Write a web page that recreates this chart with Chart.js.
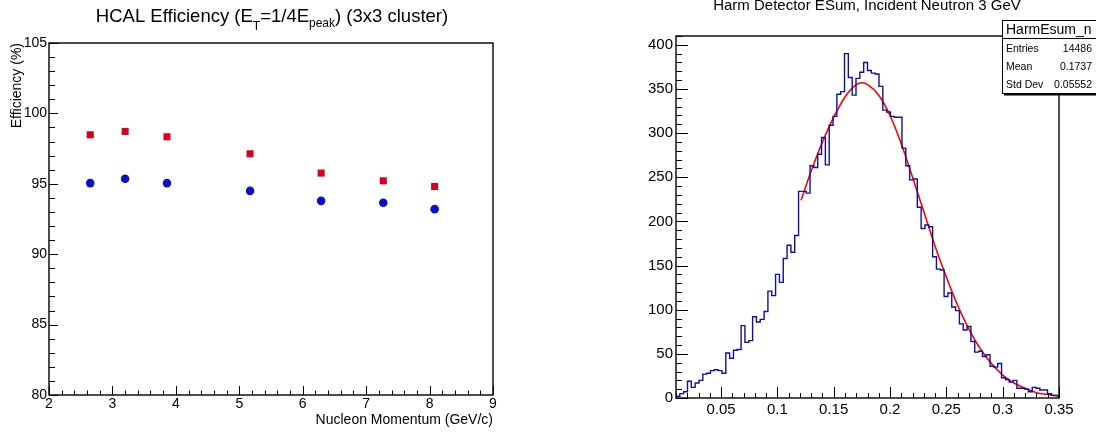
<!DOCTYPE html>
<html>
<head>
<meta charset="utf-8">
<script src="https://cdn.jsdelivr.net/npm/chart.js@4.4.1/dist/chart.umd.min.js"></script>
<style>
  html, body { margin: 0; padding: 0; background: #fff; }
  #wrap { position: relative; width: 1096px; height: 433px; overflow: hidden; }
  canvas { position: absolute; top: 0; }
  #effChart { left: 0; }
  #esumChart { left: 548px; }
</style>
</head>
<body>
<div id="wrap">
  <canvas id="effChart" width="548" height="433"></canvas>
  <canvas id="esumChart" width="548" height="433"></canvas>
</div>
<script>
// left pad: HCAL efficiency vs nucleon momentum
const momentum = [2.65, 3.20, 3.86, 5.17, 6.29, 7.27, 8.08];
const effSquares = [98.48, 98.72, 98.34, 97.13, 95.76, 95.21, 94.81];
const effCircles = [95.05, 95.36, 95.05, 94.50, 93.79, 93.65, 93.20];
const effXTicks = [2, 3, 4, 5, 6, 7, 8, 9];
const effYTicks = [80, 85, 90, 95, 100, 105];

// right pad: Harm ESum, 100 bins between 0.01 and 0.35
const esumLow = 0.01;
const esumHigh = 0.35;
const esumCounts = [
  2, 5, 7, 19, 12, 17, 20, 27, 28, 31,
  32, 31, 28, 51, 45, 54, 55, 82, 63, 65,
  92, 86, 89, 98, 121, 116, 140, 131, 158, 173,
  165, 184, 234, 234, 232, 263, 261, 276, 295, 264,
  309, 319, 344, 347, 390, 363, 343, 362, 369, 380,
  371, 368, 367, 353, 326, 324, 319, 318, 318, 283,
  263, 247, 248, 216, 192, 196, 194, 160, 146, 145,
  115, 119, 103, 99, 84, 77, 81, 64, 52, 53,
  47, 49, 36, 35, 39, 23, 21, 18, 20, 11,
  11, 10, 7, 12, 11, 9, 9, 5, 3, 3
];
// red fit curve
const fitX = [0.121, 0.13, 0.14, 0.15, 0.16, 0.17, 0.175, 0.18, 0.19, 0.20, 0.21, 0.22, 0.23,
              0.24, 0.25, 0.26, 0.27, 0.28, 0.29, 0.30, 0.31, 0.32, 0.33, 0.34, 0.35];
const fitY = [224, 257, 290, 318, 341, 355, 357, 355, 343, 320, 288, 250, 211,
              172, 137, 105, 78, 56, 39, 26, 17, 11, 6, 4, 2];
const esumXTicks = [0.05, 0.1, 0.15, 0.2, 0.25, 0.3, 0.35];
const esumXLabels = ["0.05", "0.1", "0.15", "0.2", "0.25", "0.3", "0.35"];
const esumYTicks = [0, 50, 100, 150, 200, 250, 300, 350, 400];
const statsRows = [["Entries", "14486"], ["Mean", "0.1737"], ["Std Dev", "0.05552"]];

const FONT = "Liberation Sans, Arial, Helvetica, sans-serif";

function steps(from, to, step) {
  const out = [];
  for (let v = from; v <= to + 1e-9; v += step) out.push(+v.toFixed(6));
  return out;
}

// ROOT style frame: box around the pad, ticks pointing inwards
function frameTicks(opt) {
  return {
    id: "frameTicks",
    afterDatasetsDraw(chart) {
      const { ctx, chartArea: a, scales: { x, y } } = chart;
      ctx.save();
      ctx.strokeStyle = "#000";
      ctx.lineWidth = 1;
      ctx.beginPath();
      opt.xMinor.forEach(v => {
        const p = Math.round(x.getPixelForValue(v)) + 0.5;
        ctx.moveTo(p, a.bottom); ctx.lineTo(p, a.bottom - opt.xMinorLen);
      });
      opt.xMajor.forEach(v => {
        const p = Math.round(x.getPixelForValue(v)) + 0.5;
        ctx.moveTo(p, a.bottom); ctx.lineTo(p, a.bottom - opt.xMajorLen);
      });
      opt.yMinor.forEach(v => {
        const p = Math.round(y.getPixelForValue(v)) + 0.5;
        ctx.moveTo(a.left, p); ctx.lineTo(a.left + opt.yMinorLen, p);
      });
      opt.yMajor.forEach(v => {
        const p = Math.round(y.getPixelForValue(v)) + 0.5;
        ctx.moveTo(a.left, p); ctx.lineTo(a.left + opt.yMajorLen, p);
      });
      ctx.stroke();
      ctx.lineWidth = 1.4;
      ctx.strokeRect(a.left, a.top, a.right - a.left, a.bottom - a.top);
      ctx.restore();
      if (opt.extra) opt.extra(chart);
    }
  };
}

function drawEffTitle(chart) {
  const ctx = chart.ctx;
  const parts = [
    ["HCAL Efficiency (E", 0, 18.5],
    ["T", 8, 12],
    ["=1/4E", 0, 18.5],
    ["peak", 5, 12],
    [") (3x3 cluster)", 0, 18.5]
  ];
  ctx.save();
  ctx.fillStyle = "#000";
  ctx.textBaseline = "alphabetic";
  let total = 0;
  parts.forEach(p => { ctx.font = p[2] + "px " + FONT; total += ctx.measureText(p[0]).width; });
  let x = 272 - total / 2;
  parts.forEach(p => {
    ctx.font = p[2] + "px " + FONT;
    ctx.fillText(p[0], x, 21.7 + p[1]);
    x += ctx.measureText(p[0]).width;
  });
  ctx.restore();
}

function drawEsumExtras(chart) {
  const ctx = chart.ctx;
  ctx.save();
  ctx.fillStyle = "#000";
  ctx.font = "15px " + FONT;
  ctx.textAlign = "center";
  ctx.textBaseline = "alphabetic";
  ctx.fillText("Harm Detector ESum, Incident Neutron 3 GeV", 319, 9.5);

  // stats box
  const bx = 454, by = 20, bw = 100, bh = 73;
  ctx.fillStyle = "#fff";
  ctx.fillRect(bx, by, bw, bh);
  ctx.strokeStyle = "#000";
  ctx.lineWidth = 1;
  ctx.strokeRect(bx + 0.5, by + 0.5, bw, bh);
  ctx.lineWidth = 2;
  ctx.beginPath();
  ctx.moveTo(bx + 2, by + bh + 1.5); ctx.lineTo(bx + bw, by + bh + 1.5);
  ctx.stroke();
  ctx.lineWidth = 1;
  ctx.beginPath();
  ctx.moveTo(bx, 38.5); ctx.lineTo(bx + bw, 38.5);
  ctx.stroke();
  ctx.fillStyle = "#000";
  ctx.textAlign = "left";
  ctx.font = "14px " + FONT;
  ctx.fillText("HarmEsum_n", 458, 34);
  ctx.font = "10.5px " + FONT;
  statsRows.forEach((r, i) => {
    const yy = 52 + i * 18;
    ctx.textAlign = "left";
    ctx.fillText(r[0], 458, yy);
    ctx.textAlign = "right";
    ctx.fillText(r[1], 544, yy);
  });
  ctx.restore();
}

function axisTicks(values, labels) {
  return {
    afterBuildTicks: scale => { scale.ticks = values.map(v => ({ value: v })); },
    callback: labels ? (v, i) => labels[i] : undefined
  };
}

// ---- left chart ----
new Chart(document.getElementById("effChart"), {
  type: "scatter",
  data: {
    datasets: [
      {
        data: momentum.map((x, i) => ({ x, y: effSquares[i] })),
        pointStyle: "rect", pointRadius: 5, pointHoverRadius: 5,
        backgroundColor: "#d6001c", borderColor: "#d6001c", borderWidth: 0
      },
      {
        data: momentum.map((x, i) => ({ x, y: effCircles[i] })),
        pointStyle: "circle", pointRadius: 4.3, pointHoverRadius: 4.3,
        backgroundColor: "#0b10c4", borderColor: "#0b10c4", borderWidth: 0
      }
    ]
  },
  options: {
    responsive: false,
    animation: false,
    layout: { padding: { top: 43, right: 55, left: 0, bottom: 0 } },
    plugins: { legend: { display: false }, tooltip: { enabled: false } },
    scales: {
      x: {
        type: "linear", min: 2, max: 9,
        afterBuildTicks: axisTicks(effXTicks).afterBuildTicks,
        afterFit: s => { s.height = 38; },
        ticks: { color: "#000", font: { family: FONT, size: 14 }, padding: 1, maxRotation: 0, autoSkip: false },
        grid: { display: false, drawTicks: false },
        border: { display: false },
        title: {
          display: true, text: "Nucleon Momentum (GeV/c)", align: "end", color: "#000",
          font: { family: FONT, size: 14 }, padding: { top: 0, bottom: 4.6 }
        }
      },
      y: {
        type: "linear", min: 80, max: 105,
        afterBuildTicks: axisTicks(effYTicks).afterBuildTicks,
        afterFit: s => { s.width = 49; },
        ticks: { color: "#000", font: { family: FONT, size: 14 }, padding: 2, autoSkip: false },
        grid: { display: false, drawTicks: false },
        border: { display: false },
        title: {
          display: true, text: "Efficiency (%)", align: "end", color: "#000",
          font: { family: FONT, size: 14 }, padding: { top: 8.6, bottom: 0 }
        }
      }
    }
  },
  plugins: [frameTicks({
    xMinor: steps(2, 9, 0.2), xMajor: effXTicks, xMinorLen: 4.5, xMajorLen: 9,
    yMinor: steps(80, 105, 1), yMajor: effYTicks, yMinorLen: 6, yMajorLen: 9,
    extra: drawEffTitle
  })]
});

// ---- right chart ----
const binWidth = (esumHigh - esumLow) / esumCounts.length;
const histPoints = esumCounts.map((c, i) => ({ x: esumLow + i * binWidth, y: c }));
histPoints.push({ x: esumHigh, y: esumCounts[esumCounts.length - 1] });

new Chart(document.getElementById("esumChart"), {
  type: "line",
  data: {
    datasets: [
      {
        data: histPoints, stepped: true,
        borderColor: "#10109a", borderWidth: 1.4, pointRadius: 0, fill: false
      },
      {
        data: fitX.map((x, i) => ({ x, y: fitY[i] })),
        borderColor: "#ff0000", borderWidth: 1.6, pointRadius: 0, fill: false,
        cubicInterpolationMode: "monotone"
      }
    ]
  },
  options: {
    responsive: false,
    animation: false,
    layout: { padding: { top: 36, right: 37, left: 0, bottom: 0 } },
    plugins: { legend: { display: false }, tooltip: { enabled: false } },
    scales: {
      x: {
        type: "linear", min: esumLow, max: esumHigh,
        afterBuildTicks: axisTicks(esumXTicks).afterBuildTicks,
        afterFit: s => { s.height = 35; },
        ticks: {
          color: "#000", font: { family: FONT, size: 15 }, padding: 3, maxRotation: 0, autoSkip: false,
          callback: (v, i) => esumXLabels[i]
        },
        grid: { display: false, drawTicks: false },
        border: { display: false }
      },
      y: {
        type: "linear", min: 0, max: 410,
        afterBuildTicks: axisTicks(esumYTicks).afterBuildTicks,
        afterFit: s => { s.width = 128; },
        ticks: { color: "#000", font: { family: FONT, size: 15 }, padding: 3, autoSkip: false },
        grid: { display: false, drawTicks: false },
        border: { display: false }
      }
    }
  },
  plugins: [frameTicks({
    xMinor: steps(0.01, 0.35, 0.01), xMajor: esumXTicks, xMinorLen: 5, xMajorLen: 11,
    yMinor: steps(0, 410, 10), yMajor: esumYTicks, yMinorLen: 6, yMajorLen: 12,
    extra: drawEsumExtras
  })]
});
</script>
</body>
</html>
